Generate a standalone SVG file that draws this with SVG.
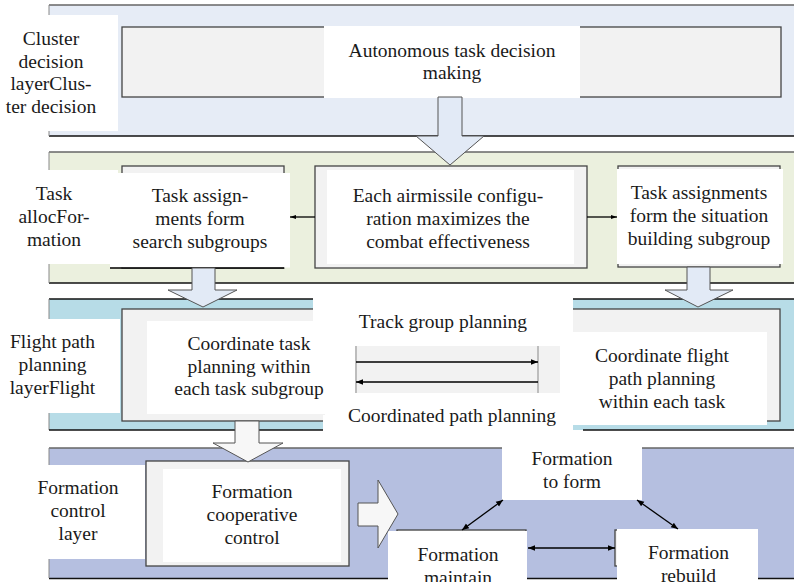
<svg xmlns="http://www.w3.org/2000/svg" width="794" height="582" viewBox="0 0 794 582">
<defs>
<style>
text{font-family:"Liberation Serif","Times New Roman",serif;font-size:19.5px;fill:#1a1a1a;text-anchor:middle}
.w{fill:#fff}
.box{fill:#f2f2f2;stroke:#444;stroke-width:1.3}
.top{stroke:#666;stroke-width:1.3}
.bot{stroke:#111;stroke-width:1.5}
.side{stroke:#888;stroke-width:1}
.ln{stroke:#000;stroke-width:1.3;fill:none}
.blk{stroke:#555;stroke-width:1}
</style>
<marker id="ah" viewBox="0 0 10 10" refX="10" refY="5" markerWidth="7" markerHeight="7" orient="auto-start-reverse" markerUnits="userSpaceOnUse"><path d="M0,1 L10,5 L0,9 Z" fill="#000"/></marker>
<marker id="ahs" viewBox="0 0 10 10" refX="10" refY="5" markerWidth="6" markerHeight="6" orient="auto-start-reverse" markerUnits="userSpaceOnUse"><path d="M0,1.5 L10,5 L0,8.5 Z" fill="#000"/></marker>
</defs>
<rect width="794" height="582" fill="#fff"/>

<!-- Layer 1 -->
<g id="layer1">
<rect x="49" y="5" width="760" height="131" fill="#e6ecf6"/>
<line class="top" x1="49" y1="5" x2="794" y2="5"/>
<line class="bot" x1="49" y1="136" x2="794" y2="136"/>
<line class="side" x1="49" y1="5" x2="49" y2="136"/>
<rect class="w" x="0" y="15" width="118" height="116"/>
<text x="51" y="45">Cluster</text>
<text x="51" y="67.5">decision</text>
<text x="51" y="90">layerClus-</text>
<text x="51" y="112.5">ter decision</text>
</g>
<g id="n-autonomous">
<rect class="box" x="122" y="27" width="659" height="70"/>
<rect class="w" x="324" y="26" width="256" height="72"/>
<text x="452" y="57">Autonomous task decision</text>
<text x="452" y="79">making</text>
</g>

<!-- Layer 2 -->
<g id="layer2">
<rect x="49" y="152" width="760" height="131" fill="#ebf0de"/>
<line class="top" x1="49" y1="152" x2="794" y2="152"/>
<line class="bot" x1="49" y1="283" x2="794" y2="283"/>
<line class="side" x1="49" y1="152" x2="49" y2="283"/>
<rect class="w" x="0" y="170" width="118" height="94"/>
<text x="54" y="200">Task</text>
<text x="54" y="223">allocFor-</text>
<text x="54" y="245.5">mation</text>
</g>
<g id="n-search">
<rect class="box" x="122" y="166" width="162" height="102"/>
<rect class="w" x="110" y="173" width="180" height="94.5"/>
<line class="ln" x1="110" y1="268" x2="284" y2="268"/>
<text x="200" y="202">Task assign-</text>
<text x="200" y="225">ments form</text>
<text x="200" y="248">search subgroups</text>
</g>
<g id="n-config">
<rect class="box" x="315" y="166" width="272" height="102"/>
<rect class="w" x="327" y="170" width="247" height="94"/>
<text x="448" y="202">Each airmissile configu-</text>
<text x="448" y="225">ration maximizes the</text>
<text x="448" y="248">combat effectiveness</text>
</g>
<g id="n-situation">
<rect class="box" x="618" y="166" width="162" height="101"/>
<rect class="w" x="617" y="169" width="166" height="95"/>
<text x="699" y="199">Task assignments</text>
<text x="699" y="222">form the situation</text>
<text x="699" y="245">building subgroup</text>
</g>

<!-- Layer 3 -->
<g id="layer3">
<rect x="49" y="299" width="760" height="131" fill="#b7dce7"/>
<line class="bot" x1="49" y1="299" x2="794" y2="299"/>
<line class="side" x1="49" y1="299" x2="49" y2="430"/>
<rect class="w" x="0" y="319" width="120" height="94"/>
<text x="52.5" y="348">Flight path</text>
<text x="52.5" y="371">planning</text>
<text x="52.5" y="393.5">layerFlight</text>
</g>
<g id="n-coord-task">
<rect class="box" x="122" y="309" width="230" height="112"/>
<rect class="w" x="147" y="321" width="178" height="93"/>
<text x="249" y="350">Coordinate task</text>
<text x="249" y="372.5">planning within</text>
<text x="249" y="395">each task subgroup</text>
</g>
<g id="n-coord-flight">
<rect class="box" x="550" y="309" width="230" height="112"/>
<rect class="w" x="573" y="332" width="194" height="93"/>
<text x="662" y="362">Coordinate flight</text>
<text x="662" y="385">path planning</text>
<text x="662" y="407.5">within each task</text>
</g>
<g id="n-track">
<polygon class="w" points="313,285 573,285 573,432 323,432 323,415 325,415 325,321 313,321"/>
<rect x="355" y="346" width="205" height="47" fill="#f2f2f2"/>
<line class="side" x1="356" y1="346" x2="356" y2="393"/>
<line class="side" x1="538" y1="346" x2="538" y2="393"/>
<text x="443" y="328">Track group planning</text>
<text x="452" y="421.5">Coordinated path planning</text>
</g>
<line class="bot" x1="49" y1="430" x2="323" y2="430"/>
<line class="bot" x1="583" y1="430" x2="794" y2="430"/>

<!-- Layer 4 -->
<g id="layer4">
<rect x="49" y="448" width="760" height="130" fill="#b5bfe0"/>
<line class="top" x1="49" y1="448" x2="794" y2="448"/>
<line class="bot" x1="49" y1="578.5" x2="794" y2="578.5"/>
<line class="side" x1="49" y1="448" x2="49" y2="578"/>
<rect class="w" x="0" y="465" width="145" height="94"/>
<text x="78" y="494">Formation</text>
<text x="78" y="517">control</text>
<text x="78" y="539.5">layer</text>
</g>
<g id="n-coop">
<rect class="box" x="146" y="461" width="203" height="105"/>
<rect class="w" x="163" y="469" width="178" height="93"/>
<text x="252" y="498">Formation</text>
<text x="252" y="521">cooperative</text>
<text x="252" y="543.5">control</text>
</g>
<g id="n-toform">
<rect class="w" x="502" y="436" width="140" height="64"/>
<text x="572" y="465">Formation</text>
<text x="572" y="487.5">to form</text>
</g>
<g id="n-maintain">
<rect class="box" x="397" y="530" width="129" height="45"/>
<rect class="w" x="388" y="531" width="139" height="51"/>
<text x="458" y="561">Formation</text>
<text x="458" y="583.5">maintain</text>
</g>
<g id="n-rebuild">
<rect class="box" x="615" y="530" width="100" height="36"/>
<rect class="w" x="617" y="529" width="141" height="53"/>
<text x="688.5" y="559">Formation</text>
<text x="688.5" y="582">rebuild</text>
</g>

<!-- Connectors -->
<g id="connectors">
<polygon class="blk" fill="#e2eaf6" points="438,97 462,97 462,136 484,136 450,165 416,136 438,136"/>
<polygon class="blk" fill="#e2eaf6" points="192,268 215,268 215,290 237,290 203,307 168,290 192,290"/>
<polygon class="blk" fill="#e2eaf6" points="687,267 710,267 710,290 733,290 698,307 665,290 687,290"/>
<polygon class="blk" fill="#f7f7f7" points="235,421 259,421 259,443 283,443 248,462 213,443 235,443"/>
<polygon class="blk" fill="#f7f7f7" points="358,503 378,503 378,480 398,514 378,548 378,526 358,526"/>
<line class="ln" x1="315" y1="217" x2="290" y2="217" marker-end="url(#ahs)"/>
<line class="ln" x1="587" y1="217" x2="617" y2="217" marker-end="url(#ahs)"/>
<line class="ln" x1="356" y1="362" x2="538" y2="362" marker-end="url(#ah)"/>
<line class="ln" x1="538" y1="382" x2="356" y2="382" marker-end="url(#ah)"/>
<line class="ln" x1="503" y1="500" x2="462" y2="530" marker-start="url(#ah)" marker-end="url(#ah)"/>
<line class="ln" x1="637" y1="500" x2="678" y2="529" marker-start="url(#ah)" marker-end="url(#ah)"/>
<line class="ln" x1="528" y1="548" x2="615" y2="548" marker-start="url(#ah)" marker-end="url(#ah)"/>
</g>
</svg>
